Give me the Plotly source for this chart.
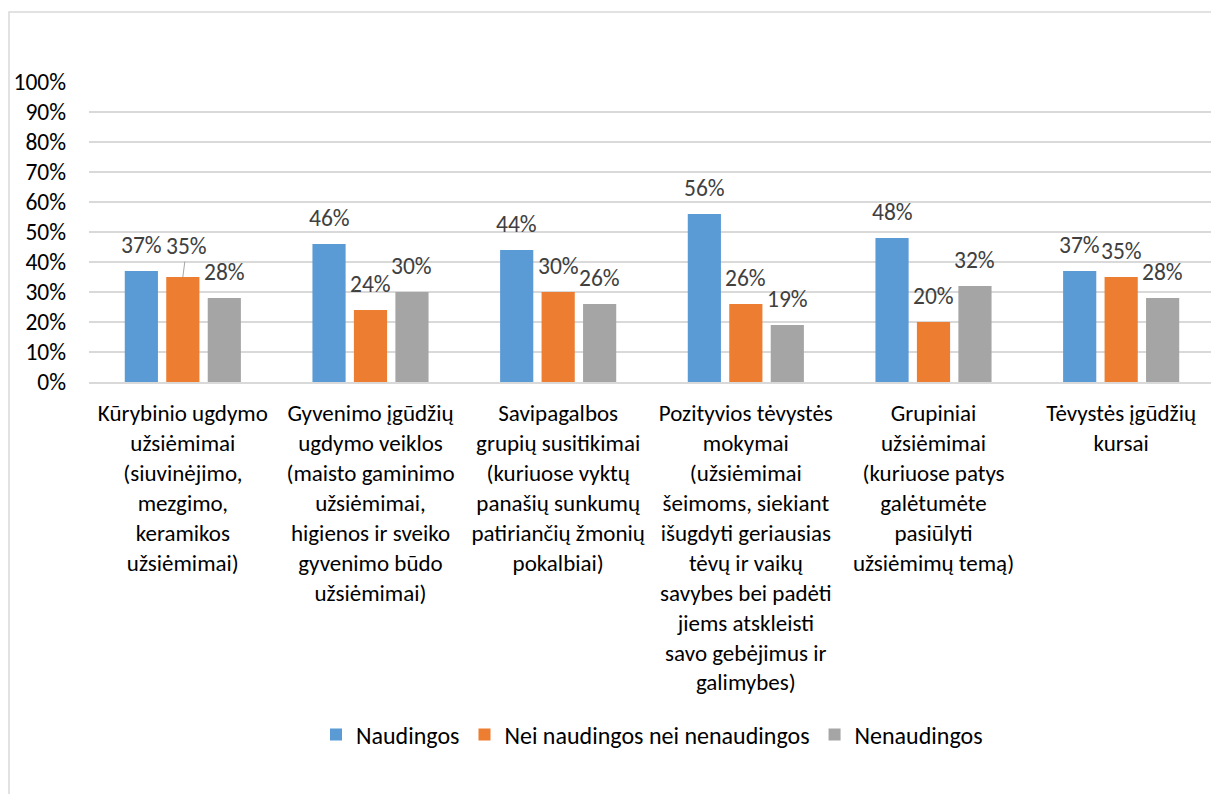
import plotly.graph_objects as go

categories = [
    "Kūrybinio ugdymo<br>užsiėmimai<br>(siuvinėjimo,<br>mezgimo,<br>keramikos<br>užsiėmimai)",
    "Gyvenimo įgūdžių<br>ugdymo veiklos<br>(maisto gaminimo<br>užsiėmimai,<br>higienos ir sveiko<br>gyvenimo būdo<br>užsiėmimai)",
    "Savipagalbos<br>grupių susitikimai<br>(kuriuose vyktų<br>panašių sunkumų<br>patiriančių žmonių<br>pokalbiai)",
    "Pozityvios tėvystės<br>mokymai<br>(užsiėmimai<br>šeimoms, siekiant<br>išugdyti geriausias<br>tėvų ir vaikų<br>savybes bei padėti<br>jiems atskleisti<br>savo gebėjimus ir<br>galimybes)",
    "Grupiniai<br>užsiėmimai<br>(kuriuose patys<br>galėtumėte<br>pasiūlyti<br>užsiėmimų temą)",
    "Tėvystės įgūdžių<br>kursai",
]
series_names = ["Naudingos", "Nei naudingos nei nenaudingos", "Nenaudingos"]
naudingos = [0.37, 0.46, 0.44, 0.56, 0.48, 0.37]
neutral = [0.35, 0.24, 0.30, 0.26, 0.20, 0.35]
nenaudingos = [0.28, 0.30, 0.26, 0.19, 0.32, 0.28]
y_ticks = [0, 0.1, 0.2, 0.3, 0.4, 0.5, 0.6, 0.7, 0.8, 0.9, 1.0]

colors = ["#5B9BD5", "#ED7D31", "#A5A5A5"]
FONT = "Carlito, Calibri, Lato, sans-serif"
OFF = 8  # page body margin
W, H = 1219 - OFF, 794 - OFF
ML, MR, MT, MB = 89 - OFF, 4, 82 - OFF, 412
BARGAP = 0.337

fig = go.Figure()
all_series = [naudingos, neutral, nenaudingos]
for name, vals, col in zip(series_names, all_series, colors):
    fig.add_trace(go.Bar(
        x=list(range(len(categories))), y=vals, name=name,
        marker=dict(color=col, line=dict(width=0)),
    ))

# data labels placed above bars (Excel style); one label uses a leader line
slot = (1 - BARGAP) / 3
for si, vals in enumerate(all_series):
    for ci, v in enumerate(vals):
        common = dict(
            x=ci + (si - 1) * slot, y=v, xref="x", yref="y",
            text=f"{round(v*100)}%",
            font=dict(family=FONT, size=23.5, color="#404040"),
        )
        if ci == 0 and si == 1:
            fig.add_annotation(**common, showarrow=True, arrowhead=0,
                               arrowwidth=1, arrowcolor="#A6A6A6",
                               ax=4, ay=-31, standoff=0, startstandoff=0)
        else:
            fig.add_annotation(**common, showarrow=False,
                               yanchor="middle", yshift=26)

pw = W - ML - MR
ph = H - MT - MB
def px_x(p):
    return (p - OFF - ML) / pw
def px_y(p):
    return (H - MB - (p - OFF)) / ph

fig.add_shape(type="rect", xref="paper", yref="paper",
              x0=px_x(9), x1=px_x(1240), y0=px_y(12), y1=px_y(820),
              line=dict(color="#D9D9D9", width=1.5), layer="below")

fig.update_layout(
    width=W, height=H,
    margin=dict(l=ML, r=MR, t=MT, b=MB, autoexpand=False),
    plot_bgcolor="white", paper_bgcolor="white",
    barmode="group", bargap=BARGAP, bargroupgap=0.2,
    font=dict(family=FONT, size=23, color="#000000"),
    showlegend=True,
    legend=dict(orientation="h", x=0.5, xanchor="center",
                y=px_y(735), yanchor="middle",
                font=dict(family=FONT, size=24, color="#000000"),
                traceorder="normal"),
    xaxis=dict(
        tickmode="array", tickvals=list(range(len(categories))), ticktext=categories,
        range=[-0.5, len(categories) - 0.5],
        showgrid=False, showline=True, linecolor="#D9D9D9", linewidth=1.5,
        ticks="", tickangle=0, ticklabelstandoff=10,
        tickfont=dict(family=FONT, size=23, color="#000000"),
    ),
    yaxis=dict(
        range=[0, 1.0], tickvals=y_ticks, tickformat=".0%",
        showgrid=True, gridcolor="#D9D9D9", gridwidth=1.5,
        zeroline=False, showline=False, ticks="", ticklabelstandoff=22,
        tickfont=dict(family=FONT, size=23.5, color="#000000"),
    ),
)

fig.write_html("out.html")
